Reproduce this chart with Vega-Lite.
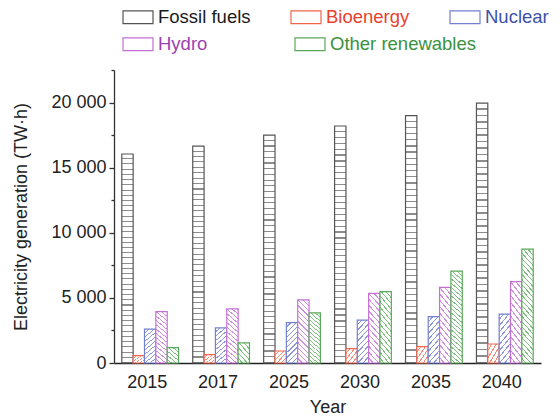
{
"$schema":"https://vega.github.io/schema/vega-lite/v6.json",
"width":427,"height":293,
"autosize":{"type":"none"},
"padding":{"left":114,"top":70,"right":19,"bottom":56},
"config":{"view":{"stroke":null},"font":"Liberation Sans",
"axis":{"labelFontSize":18,"titleFontSize":18,"titleFontWeight":"normal","labelColor":"#222","titleColor":"#222","grid":false,"labelFont":"Liberation Sans","titleFont":"Liberation Sans"},
"legend":{"labelFont":"Liberation Sans","labelFontSize":18.5,"labelOffset":4,"symbolSize":900,"symbolType":"M-1,-0.43H1V0.43H-1Z","symbolStrokeWidth":1.2,"padding":0,"title":null}},
"data":{"values":[
{"year":"2015","source":"Fossil fuels","value":16050},{"year":"2015","source":"Bioenergy","value":560},{"year":"2015","source":"Nuclear","value":2600},{"year":"2015","source":"Hydro","value":3950},{"year":"2015","source":"Other renewables","value":1180},
{"year":"2017","source":"Fossil fuels","value":16650},{"year":"2017","source":"Bioenergy","value":640},{"year":"2017","source":"Nuclear","value":2690},{"year":"2017","source":"Hydro","value":4150},{"year":"2017","source":"Other renewables","value":1540},
{"year":"2025","source":"Fossil fuels","value":17500},{"year":"2025","source":"Bioenergy","value":920},{"year":"2025","source":"Nuclear","value":3100},{"year":"2025","source":"Hydro","value":4850},{"year":"2025","source":"Other renewables","value":3850},
{"year":"2030","source":"Fossil fuels","value":18200},{"year":"2030","source":"Bioenergy","value":1100},{"year":"2030","source":"Nuclear","value":3300},{"year":"2030","source":"Hydro","value":5350},{"year":"2030","source":"Other renewables","value":5480},
{"year":"2035","source":"Fossil fuels","value":19000},{"year":"2035","source":"Bioenergy","value":1250},{"year":"2035","source":"Nuclear","value":3560},{"year":"2035","source":"Hydro","value":5800},{"year":"2035","source":"Other renewables","value":7050},
{"year":"2040","source":"Fossil fuels","value":19950},{"year":"2040","source":"Bioenergy","value":1460},{"year":"2040","source":"Nuclear","value":3760},{"year":"2040","source":"Hydro","value":6250},{"year":"2040","source":"Other renewables","value":8740}
]},
"encoding":{
"x":{"field":"year","type":"nominal","sort":null,"scale":{"paddingInner":0.2,"paddingOuter":0.11},"axis":{"title":"Year","labelAngle":0,"ticks":false,"labelPadding":10,"titlePadding":7,"labelOffset":-3,"domainColor":"#222","domainWidth":1.5}},
"xOffset":{"field":"source","type":"nominal","scale":{"domain":["Fossil fuels","Bioenergy","Nuclear","Hydro","Other renewables"],"paddingInner":0,"paddingOuter":0}},
"y":{"field":"value","type":"quantitative","scale":{"domain":[0,22500],"nice":false},"axis":{"title":"Electricity generation (TW·h)","values":[0,2500,5000,7500,10000,12500,15000,17500,20000,22500],"labelExpr":"datum.value % 5000 === 0 ? replace(format(datum.value, ','), ',', ' ') : ''","tickSize":{"condition":{"test":"datum.value % 5000 === 0","value":5},"value":3},"labelPadding":3,"titlePadding":20,"domainColor":"#333","tickColor":"#333","domainWidth":1.3,"tickWidth":1.3}}
},
"layer":[
{"transform":[{"filter":"datum.source === 'Fossil fuels' || datum.source === 'Bioenergy' || datum.source === 'Nuclear'"}],
"mark":{"type":"bar","strokeWidth":1.2},
"encoding":{
"stroke":{"field":"source","type":"nominal","scale":{"domain":["Fossil fuels","Bioenergy","Nuclear"],"range":["#555555","#f0664c","#7380d0"]},"legend":null},
"fill":{"condition":[
{"test":"datum.source === 'Fossil fuels'","value":{"gradient":"linear","x1":0.5,"y1":0,"x2":0.5,"y2":1,"stops":[
{"offset":0,"color":"#fff"},{"offset":0.02,"color":"#fff"},{"offset":0.02,"color":"#8c8c8c"},{"offset":0.025,"color":"#8c8c8c"},
{"offset":0.025,"color":"#fff"},{"offset":0.045,"color":"#fff"},{"offset":0.045,"color":"#8c8c8c"},{"offset":0.05,"color":"#8c8c8c"},
{"offset":0.05,"color":"#fff"},{"offset":0.07,"color":"#fff"},{"offset":0.07,"color":"#8c8c8c"},{"offset":0.075,"color":"#8c8c8c"},
{"offset":0.075,"color":"#fff"},{"offset":0.095,"color":"#fff"},{"offset":0.095,"color":"#8c8c8c"},{"offset":0.1,"color":"#8c8c8c"},
{"offset":0.1,"color":"#fff"},{"offset":0.12,"color":"#fff"},{"offset":0.12,"color":"#8c8c8c"},{"offset":0.125,"color":"#8c8c8c"},
{"offset":0.125,"color":"#fff"},{"offset":0.145,"color":"#fff"},{"offset":0.145,"color":"#8c8c8c"},{"offset":0.15,"color":"#8c8c8c"},
{"offset":0.15,"color":"#fff"},{"offset":0.17,"color":"#fff"},{"offset":0.17,"color":"#8c8c8c"},{"offset":0.175,"color":"#8c8c8c"},
{"offset":0.175,"color":"#fff"},{"offset":0.195,"color":"#fff"},{"offset":0.195,"color":"#8c8c8c"},{"offset":0.2,"color":"#8c8c8c"},
{"offset":0.2,"color":"#fff"},{"offset":0.22,"color":"#fff"},{"offset":0.22,"color":"#8c8c8c"},{"offset":0.225,"color":"#8c8c8c"},
{"offset":0.225,"color":"#fff"},{"offset":0.245,"color":"#fff"},{"offset":0.245,"color":"#8c8c8c"},{"offset":0.25,"color":"#8c8c8c"},
{"offset":0.25,"color":"#fff"},{"offset":0.27,"color":"#fff"},{"offset":0.27,"color":"#8c8c8c"},{"offset":0.275,"color":"#8c8c8c"},
{"offset":0.275,"color":"#fff"},{"offset":0.295,"color":"#fff"},{"offset":0.295,"color":"#8c8c8c"},{"offset":0.3,"color":"#8c8c8c"},
{"offset":0.3,"color":"#fff"},{"offset":0.32,"color":"#fff"},{"offset":0.32,"color":"#8c8c8c"},{"offset":0.325,"color":"#8c8c8c"},
{"offset":0.325,"color":"#fff"},{"offset":0.345,"color":"#fff"},{"offset":0.345,"color":"#8c8c8c"},{"offset":0.35,"color":"#8c8c8c"},
{"offset":0.35,"color":"#fff"},{"offset":0.37,"color":"#fff"},{"offset":0.37,"color":"#8c8c8c"},{"offset":0.375,"color":"#8c8c8c"},
{"offset":0.375,"color":"#fff"},{"offset":0.395,"color":"#fff"},{"offset":0.395,"color":"#8c8c8c"},{"offset":0.4,"color":"#8c8c8c"},
{"offset":0.4,"color":"#fff"},{"offset":0.42,"color":"#fff"},{"offset":0.42,"color":"#8c8c8c"},{"offset":0.425,"color":"#8c8c8c"},
{"offset":0.425,"color":"#fff"},{"offset":0.445,"color":"#fff"},{"offset":0.445,"color":"#8c8c8c"},{"offset":0.45,"color":"#8c8c8c"},
{"offset":0.45,"color":"#fff"},{"offset":0.47,"color":"#fff"},{"offset":0.47,"color":"#8c8c8c"},{"offset":0.475,"color":"#8c8c8c"},
{"offset":0.475,"color":"#fff"},{"offset":0.495,"color":"#fff"},{"offset":0.495,"color":"#8c8c8c"},{"offset":0.5,"color":"#8c8c8c"},
{"offset":0.5,"color":"#fff"},{"offset":0.52,"color":"#fff"},{"offset":0.52,"color":"#8c8c8c"},{"offset":0.525,"color":"#8c8c8c"},
{"offset":0.525,"color":"#fff"},{"offset":0.545,"color":"#fff"},{"offset":0.545,"color":"#8c8c8c"},{"offset":0.55,"color":"#8c8c8c"},
{"offset":0.55,"color":"#fff"},{"offset":0.57,"color":"#fff"},{"offset":0.57,"color":"#8c8c8c"},{"offset":0.575,"color":"#8c8c8c"},
{"offset":0.575,"color":"#fff"},{"offset":0.595,"color":"#fff"},{"offset":0.595,"color":"#8c8c8c"},{"offset":0.6,"color":"#8c8c8c"},
{"offset":0.6,"color":"#fff"},{"offset":0.62,"color":"#fff"},{"offset":0.62,"color":"#8c8c8c"},{"offset":0.625,"color":"#8c8c8c"},
{"offset":0.625,"color":"#fff"},{"offset":0.645,"color":"#fff"},{"offset":0.645,"color":"#8c8c8c"},{"offset":0.65,"color":"#8c8c8c"},
{"offset":0.65,"color":"#fff"},{"offset":0.67,"color":"#fff"},{"offset":0.67,"color":"#8c8c8c"},{"offset":0.675,"color":"#8c8c8c"},
{"offset":0.675,"color":"#fff"},{"offset":0.695,"color":"#fff"},{"offset":0.695,"color":"#8c8c8c"},{"offset":0.7,"color":"#8c8c8c"},
{"offset":0.7,"color":"#fff"},{"offset":0.72,"color":"#fff"},{"offset":0.72,"color":"#8c8c8c"},{"offset":0.725,"color":"#8c8c8c"},
{"offset":0.725,"color":"#fff"},{"offset":0.745,"color":"#fff"},{"offset":0.745,"color":"#8c8c8c"},{"offset":0.75,"color":"#8c8c8c"},
{"offset":0.75,"color":"#fff"},{"offset":0.77,"color":"#fff"},{"offset":0.77,"color":"#8c8c8c"},{"offset":0.775,"color":"#8c8c8c"},
{"offset":0.775,"color":"#fff"},{"offset":0.795,"color":"#fff"},{"offset":0.795,"color":"#8c8c8c"},{"offset":0.8,"color":"#8c8c8c"},
{"offset":0.8,"color":"#fff"},{"offset":0.82,"color":"#fff"},{"offset":0.82,"color":"#8c8c8c"},{"offset":0.825,"color":"#8c8c8c"},
{"offset":0.825,"color":"#fff"},{"offset":0.845,"color":"#fff"},{"offset":0.845,"color":"#8c8c8c"},{"offset":0.85,"color":"#8c8c8c"},
{"offset":0.85,"color":"#fff"},{"offset":0.87,"color":"#fff"},{"offset":0.87,"color":"#8c8c8c"},{"offset":0.875,"color":"#8c8c8c"},
{"offset":0.875,"color":"#fff"},{"offset":0.895,"color":"#fff"},{"offset":0.895,"color":"#8c8c8c"},{"offset":0.9,"color":"#8c8c8c"},
{"offset":0.9,"color":"#fff"},{"offset":0.92,"color":"#fff"},{"offset":0.92,"color":"#8c8c8c"},{"offset":0.925,"color":"#8c8c8c"},
{"offset":0.925,"color":"#fff"},{"offset":0.945,"color":"#fff"},{"offset":0.945,"color":"#8c8c8c"},{"offset":0.95,"color":"#8c8c8c"},
{"offset":0.95,"color":"#fff"},{"offset":0.97,"color":"#fff"},{"offset":0.97,"color":"#8c8c8c"},{"offset":0.975,"color":"#8c8c8c"},
{"offset":0.975,"color":"#fff"},{"offset":0.995,"color":"#fff"},{"offset":0.995,"color":"#8c8c8c"},{"offset":1,"color":"#8c8c8c"}]}},
{"test":"datum.source === 'Bioenergy'","value":{"gradient":"linear","x1":0,"y1":0,"x2":1,"y2":1,"stops":[
{"offset":0,"color":"#fff"},{"offset":0.15,"color":"#fff"},{"offset":0.15,"color":"#f28a74"},{"offset":0.2,"color":"#f28a74"},
{"offset":0.2,"color":"#fff"},{"offset":0.35,"color":"#fff"},{"offset":0.35,"color":"#f28a74"},{"offset":0.4,"color":"#f28a74"},
{"offset":0.4,"color":"#fff"},{"offset":0.55,"color":"#fff"},{"offset":0.55,"color":"#f28a74"},{"offset":0.6,"color":"#f28a74"},
{"offset":0.6,"color":"#fff"},{"offset":0.75,"color":"#fff"},{"offset":0.75,"color":"#f28a74"},{"offset":0.8,"color":"#f28a74"},
{"offset":0.8,"color":"#fff"},{"offset":0.95,"color":"#fff"},{"offset":0.95,"color":"#f28a74"},{"offset":1,"color":"#f28a74"}]}},
{"test":"datum.source === 'Nuclear'","value":{"gradient":"linear","x1":0,"y1":0,"x2":0.332,"y2":1.187,"stops":[
{"offset":0,"color":"#fff"},{"offset":0.075,"color":"#fff"},{"offset":0.075,"color":"#8c96dc"},{"offset":0.1,"color":"#8c96dc"},
{"offset":0.1,"color":"#fff"},{"offset":0.175,"color":"#fff"},{"offset":0.175,"color":"#8c96dc"},{"offset":0.2,"color":"#8c96dc"},
{"offset":0.2,"color":"#fff"},{"offset":0.275,"color":"#fff"},{"offset":0.275,"color":"#8c96dc"},{"offset":0.3,"color":"#8c96dc"},
{"offset":0.3,"color":"#fff"},{"offset":0.375,"color":"#fff"},{"offset":0.375,"color":"#8c96dc"},{"offset":0.4,"color":"#8c96dc"},
{"offset":0.4,"color":"#fff"},{"offset":0.475,"color":"#fff"},{"offset":0.475,"color":"#8c96dc"},{"offset":0.5,"color":"#8c96dc"},
{"offset":0.5,"color":"#fff"},{"offset":0.575,"color":"#fff"},{"offset":0.575,"color":"#8c96dc"},{"offset":0.6,"color":"#8c96dc"},
{"offset":0.6,"color":"#fff"},{"offset":0.675,"color":"#fff"},{"offset":0.675,"color":"#8c96dc"},{"offset":0.7,"color":"#8c96dc"},
{"offset":0.7,"color":"#fff"},{"offset":0.775,"color":"#fff"},{"offset":0.775,"color":"#8c96dc"},{"offset":0.8,"color":"#8c96dc"},
{"offset":0.8,"color":"#fff"},{"offset":0.875,"color":"#fff"},{"offset":0.875,"color":"#8c96dc"},{"offset":0.9,"color":"#8c96dc"},
{"offset":0.9,"color":"#fff"},{"offset":0.975,"color":"#fff"},{"offset":0.975,"color":"#8c96dc"},{"offset":1,"color":"#8c96dc"}]}}],
"value":"#fff"}
}},
{"transform":[{"filter":"datum.source === 'Hydro' || datum.source === 'Other renewables'"}],
"mark":{"type":"bar","strokeWidth":1.2},
"encoding":{
"stroke":{"field":"source","type":"nominal","scale":{"domain":["Hydro","Other renewables"],"range":["#c46fd6","#5aa85a"]},"legend":null},
"fill":{"condition":[
{"test":"datum.source === 'Hydro'","value":{"gradient":"linear","x1":0,"y1":1,"x2":0.206,"y2":-0.143,"stops":[
{"offset":0,"color":"#fff"},{"offset":0.0536,"color":"#fff"},{"offset":0.0536,"color":"#d08ee0"},{"offset":0.0714,"color":"#d08ee0"},
{"offset":0.0714,"color":"#fff"},{"offset":0.125,"color":"#fff"},{"offset":0.125,"color":"#d08ee0"},{"offset":0.1429,"color":"#d08ee0"},
{"offset":0.1429,"color":"#fff"},{"offset":0.1964,"color":"#fff"},{"offset":0.1964,"color":"#d08ee0"},{"offset":0.2143,"color":"#d08ee0"},
{"offset":0.2143,"color":"#fff"},{"offset":0.2679,"color":"#fff"},{"offset":0.2679,"color":"#d08ee0"},{"offset":0.2857,"color":"#d08ee0"},
{"offset":0.2857,"color":"#fff"},{"offset":0.3393,"color":"#fff"},{"offset":0.3393,"color":"#d08ee0"},{"offset":0.3571,"color":"#d08ee0"},
{"offset":0.3571,"color":"#fff"},{"offset":0.4107,"color":"#fff"},{"offset":0.4107,"color":"#d08ee0"},{"offset":0.4286,"color":"#d08ee0"},
{"offset":0.4286,"color":"#fff"},{"offset":0.4821,"color":"#fff"},{"offset":0.4821,"color":"#d08ee0"},{"offset":0.5,"color":"#d08ee0"},
{"offset":0.5,"color":"#fff"},{"offset":0.5536,"color":"#fff"},{"offset":0.5536,"color":"#d08ee0"},{"offset":0.5714,"color":"#d08ee0"},
{"offset":0.5714,"color":"#fff"},{"offset":0.625,"color":"#fff"},{"offset":0.625,"color":"#d08ee0"},{"offset":0.6429,"color":"#d08ee0"},
{"offset":0.6429,"color":"#fff"},{"offset":0.6964,"color":"#fff"},{"offset":0.6964,"color":"#d08ee0"},{"offset":0.7143,"color":"#d08ee0"},
{"offset":0.7143,"color":"#fff"},{"offset":0.7679,"color":"#fff"},{"offset":0.7679,"color":"#d08ee0"},{"offset":0.7857,"color":"#d08ee0"},
{"offset":0.7857,"color":"#fff"},{"offset":0.8393,"color":"#fff"},{"offset":0.8393,"color":"#d08ee0"},{"offset":0.8571,"color":"#d08ee0"},
{"offset":0.8571,"color":"#fff"},{"offset":0.9107,"color":"#fff"},{"offset":0.9107,"color":"#d08ee0"},{"offset":0.9286,"color":"#d08ee0"},
{"offset":0.9286,"color":"#fff"},{"offset":0.9821,"color":"#fff"},{"offset":0.9821,"color":"#d08ee0"},{"offset":1,"color":"#d08ee0"}]}},
{"test":"datum.value < 2500","value":{"gradient":"linear","x1":0,"y1":1,"x2":0.735,"y2":-0.167,"stops":[
{"offset":0,"color":"#fff"},{"offset":0.125,"color":"#fff"},{"offset":0.125,"color":"#7fbf7f"},{"offset":0.1667,"color":"#7fbf7f"},
{"offset":0.1667,"color":"#fff"},{"offset":0.2917,"color":"#fff"},{"offset":0.2917,"color":"#7fbf7f"},{"offset":0.3333,"color":"#7fbf7f"},
{"offset":0.3333,"color":"#fff"},{"offset":0.4583,"color":"#fff"},{"offset":0.4583,"color":"#7fbf7f"},{"offset":0.5,"color":"#7fbf7f"},
{"offset":0.5,"color":"#fff"},{"offset":0.625,"color":"#fff"},{"offset":0.625,"color":"#7fbf7f"},{"offset":0.6667,"color":"#7fbf7f"},
{"offset":0.6667,"color":"#fff"},{"offset":0.7917,"color":"#fff"},{"offset":0.7917,"color":"#7fbf7f"},{"offset":0.8333,"color":"#7fbf7f"},
{"offset":0.8333,"color":"#fff"},{"offset":0.9583,"color":"#fff"},{"offset":0.9583,"color":"#7fbf7f"},{"offset":1,"color":"#7fbf7f"}]}},
{"test":"datum.value < 6000","value":{"gradient":"linear","x1":0,"y1":1,"x2":0.218,"y2":-0.149,"stops":[
{"offset":0,"color":"#fff"},{"offset":0.05,"color":"#fff"},{"offset":0.05,"color":"#7fbf7f"},{"offset":0.0667,"color":"#7fbf7f"},
{"offset":0.0667,"color":"#fff"},{"offset":0.1167,"color":"#fff"},{"offset":0.1167,"color":"#7fbf7f"},{"offset":0.1333,"color":"#7fbf7f"},
{"offset":0.1333,"color":"#fff"},{"offset":0.1833,"color":"#fff"},{"offset":0.1833,"color":"#7fbf7f"},{"offset":0.2,"color":"#7fbf7f"},
{"offset":0.2,"color":"#fff"},{"offset":0.25,"color":"#fff"},{"offset":0.25,"color":"#7fbf7f"},{"offset":0.2667,"color":"#7fbf7f"},
{"offset":0.2667,"color":"#fff"},{"offset":0.3167,"color":"#fff"},{"offset":0.3167,"color":"#7fbf7f"},{"offset":0.3333,"color":"#7fbf7f"},
{"offset":0.3333,"color":"#fff"},{"offset":0.3833,"color":"#fff"},{"offset":0.3833,"color":"#7fbf7f"},{"offset":0.4,"color":"#7fbf7f"},
{"offset":0.4,"color":"#fff"},{"offset":0.45,"color":"#fff"},{"offset":0.45,"color":"#7fbf7f"},{"offset":0.4667,"color":"#7fbf7f"},
{"offset":0.4667,"color":"#fff"},{"offset":0.5167,"color":"#fff"},{"offset":0.5167,"color":"#7fbf7f"},{"offset":0.5333,"color":"#7fbf7f"},
{"offset":0.5333,"color":"#fff"},{"offset":0.5833,"color":"#fff"},{"offset":0.5833,"color":"#7fbf7f"},{"offset":0.6,"color":"#7fbf7f"},
{"offset":0.6,"color":"#fff"},{"offset":0.65,"color":"#fff"},{"offset":0.65,"color":"#7fbf7f"},{"offset":0.6667,"color":"#7fbf7f"},
{"offset":0.6667,"color":"#fff"},{"offset":0.7167,"color":"#fff"},{"offset":0.7167,"color":"#7fbf7f"},{"offset":0.7333,"color":"#7fbf7f"},
{"offset":0.7333,"color":"#fff"},{"offset":0.7833,"color":"#fff"},{"offset":0.7833,"color":"#7fbf7f"},{"offset":0.8,"color":"#7fbf7f"},
{"offset":0.8,"color":"#fff"},{"offset":0.85,"color":"#fff"},{"offset":0.85,"color":"#7fbf7f"},{"offset":0.8667,"color":"#7fbf7f"},
{"offset":0.8667,"color":"#fff"},{"offset":0.9167,"color":"#fff"},{"offset":0.9167,"color":"#7fbf7f"},{"offset":0.9333,"color":"#7fbf7f"},
{"offset":0.9333,"color":"#fff"},{"offset":0.9833,"color":"#fff"},{"offset":0.9833,"color":"#7fbf7f"},{"offset":1,"color":"#7fbf7f"}]}},
{"test":"datum.value >= 6000","value":{"gradient":"linear","x1":0,"y1":1,"x2":0.121,"y2":-0.097,"stops":[
{"offset":0,"color":"#fff"},{"offset":0.031,"color":"#fff"},{"offset":0.031,"color":"#7fbf7f"},{"offset":0.0417,"color":"#7fbf7f"},
{"offset":0.0417,"color":"#fff"},{"offset":0.0727,"color":"#fff"},{"offset":0.0727,"color":"#7fbf7f"},{"offset":0.0833,"color":"#7fbf7f"},
{"offset":0.0833,"color":"#fff"},{"offset":0.1143,"color":"#fff"},{"offset":0.1143,"color":"#7fbf7f"},{"offset":0.125,"color":"#7fbf7f"},
{"offset":0.125,"color":"#fff"},{"offset":0.156,"color":"#fff"},{"offset":0.156,"color":"#7fbf7f"},{"offset":0.1667,"color":"#7fbf7f"},
{"offset":0.1667,"color":"#fff"},{"offset":0.1977,"color":"#fff"},{"offset":0.1977,"color":"#7fbf7f"},{"offset":0.2083,"color":"#7fbf7f"},
{"offset":0.2083,"color":"#fff"},{"offset":0.2393,"color":"#fff"},{"offset":0.2393,"color":"#7fbf7f"},{"offset":0.25,"color":"#7fbf7f"},
{"offset":0.25,"color":"#fff"},{"offset":0.281,"color":"#fff"},{"offset":0.281,"color":"#7fbf7f"},{"offset":0.2917,"color":"#7fbf7f"},
{"offset":0.2917,"color":"#fff"},{"offset":0.3227,"color":"#fff"},{"offset":0.3227,"color":"#7fbf7f"},{"offset":0.3333,"color":"#7fbf7f"},
{"offset":0.3333,"color":"#fff"},{"offset":0.3643,"color":"#fff"},{"offset":0.3643,"color":"#7fbf7f"},{"offset":0.375,"color":"#7fbf7f"},
{"offset":0.375,"color":"#fff"},{"offset":0.406,"color":"#fff"},{"offset":0.406,"color":"#7fbf7f"},{"offset":0.4167,"color":"#7fbf7f"},
{"offset":0.4167,"color":"#fff"},{"offset":0.4477,"color":"#fff"},{"offset":0.4477,"color":"#7fbf7f"},{"offset":0.4583,"color":"#7fbf7f"},
{"offset":0.4583,"color":"#fff"},{"offset":0.4893,"color":"#fff"},{"offset":0.4893,"color":"#7fbf7f"},{"offset":0.5,"color":"#7fbf7f"},
{"offset":0.5,"color":"#fff"},{"offset":0.531,"color":"#fff"},{"offset":0.531,"color":"#7fbf7f"},{"offset":0.5417,"color":"#7fbf7f"},
{"offset":0.5417,"color":"#fff"},{"offset":0.5727,"color":"#fff"},{"offset":0.5727,"color":"#7fbf7f"},{"offset":0.5833,"color":"#7fbf7f"},
{"offset":0.5833,"color":"#fff"},{"offset":0.6143,"color":"#fff"},{"offset":0.6143,"color":"#7fbf7f"},{"offset":0.625,"color":"#7fbf7f"},
{"offset":0.625,"color":"#fff"},{"offset":0.656,"color":"#fff"},{"offset":0.656,"color":"#7fbf7f"},{"offset":0.6667,"color":"#7fbf7f"},
{"offset":0.6667,"color":"#fff"},{"offset":0.6977,"color":"#fff"},{"offset":0.6977,"color":"#7fbf7f"},{"offset":0.7083,"color":"#7fbf7f"},
{"offset":0.7083,"color":"#fff"},{"offset":0.7393,"color":"#fff"},{"offset":0.7393,"color":"#7fbf7f"},{"offset":0.75,"color":"#7fbf7f"},
{"offset":0.75,"color":"#fff"},{"offset":0.781,"color":"#fff"},{"offset":0.781,"color":"#7fbf7f"},{"offset":0.7917,"color":"#7fbf7f"},
{"offset":0.7917,"color":"#fff"},{"offset":0.8227,"color":"#fff"},{"offset":0.8227,"color":"#7fbf7f"},{"offset":0.8333,"color":"#7fbf7f"},
{"offset":0.8333,"color":"#fff"},{"offset":0.8643,"color":"#fff"},{"offset":0.8643,"color":"#7fbf7f"},{"offset":0.875,"color":"#7fbf7f"},
{"offset":0.875,"color":"#fff"},{"offset":0.906,"color":"#fff"},{"offset":0.906,"color":"#7fbf7f"},{"offset":0.9167,"color":"#7fbf7f"},
{"offset":0.9167,"color":"#fff"},{"offset":0.9477,"color":"#fff"},{"offset":0.9477,"color":"#7fbf7f"},{"offset":0.9583,"color":"#7fbf7f"},
{"offset":0.9583,"color":"#fff"},{"offset":0.9893,"color":"#fff"},{"offset":0.9893,"color":"#7fbf7f"},{"offset":1,"color":"#7fbf7f"}]}}],
"value":"#fff"}
}},
{"transform":[{"filter":"false"}],
"mark":{"type":"bar","filled":false},
"encoding":{
"stroke":{"field":"source","type":"nominal","scale":{"domain":["Fossil fuels","Bioenergy","Nuclear"],"range":["#555555","#f0664c","#7380d0"]},
"legend":{"orient":"none","direction":"horizontal","legendX":8,"legendY":-69,"columnPadding":37,
"labelColor":{"expr":"datum.value === 'Bioenergy' ? '#e8412c' : datum.value === 'Nuclear' ? '#3d52a8' : '#1a1a1a'"},
"symbolFillColor":{"expr":"datum.value === 'Fossil fuels' ? {gradient:'linear',x1:0.5,y1:0,x2:0.5,y2:1,stops:[{offset:0,color:'#fff'},{offset:0.3,color:'#fff'},{offset:0.3,color:'#777'},{offset:0.37,color:'#777'},{offset:0.37,color:'#fff'},{offset:0.63,color:'#fff'},{offset:0.63,color:'#777'},{offset:0.7,color:'#777'},{offset:0.7,color:'#fff'},{offset:1,color:'#fff'}]} : datum.value === 'Bioenergy' ? {gradient:'linear',x1:0,y1:0,x2:1.208,y2:0.523,stops:[{offset:0,color:'#fff'},{offset:0.09,color:'#fff'},{offset:0.09,color:'#f28a74'},{offset:0.125,color:'#f28a74'},{offset:0.125,color:'#fff'},{offset:0.215,color:'#fff'},{offset:0.215,color:'#f28a74'},{offset:0.25,color:'#f28a74'},{offset:0.25,color:'#fff'},{offset:0.34,color:'#fff'},{offset:0.34,color:'#f28a74'},{offset:0.375,color:'#f28a74'},{offset:0.375,color:'#fff'},{offset:0.465,color:'#fff'},{offset:0.465,color:'#f28a74'},{offset:0.5,color:'#f28a74'},{offset:0.5,color:'#fff'},{offset:0.59,color:'#fff'},{offset:0.59,color:'#f28a74'},{offset:0.625,color:'#f28a74'},{offset:0.625,color:'#fff'},{offset:0.715,color:'#fff'},{offset:0.715,color:'#f28a74'},{offset:0.75,color:'#f28a74'},{offset:0.75,color:'#fff'},{offset:0.84,color:'#fff'},{offset:0.84,color:'#f28a74'},{offset:0.875,color:'#f28a74'},{offset:0.875,color:'#fff'},{offset:0.965,color:'#fff'},{offset:0.965,color:'#f28a74'},{offset:1,color:'#f28a74'}]} : {gradient:'linear',x1:0,y1:0,x2:1.208,y2:0.523,stops:[{offset:0,color:'#fff'},{offset:0.09,color:'#fff'},{offset:0.09,color:'#8c96dc'},{offset:0.125,color:'#8c96dc'},{offset:0.125,color:'#fff'},{offset:0.215,color:'#fff'},{offset:0.215,color:'#8c96dc'},{offset:0.25,color:'#8c96dc'},{offset:0.25,color:'#fff'},{offset:0.34,color:'#fff'},{offset:0.34,color:'#8c96dc'},{offset:0.375,color:'#8c96dc'},{offset:0.375,color:'#fff'},{offset:0.465,color:'#fff'},{offset:0.465,color:'#8c96dc'},{offset:0.5,color:'#8c96dc'},{offset:0.5,color:'#fff'},{offset:0.59,color:'#fff'},{offset:0.59,color:'#8c96dc'},{offset:0.625,color:'#8c96dc'},{offset:0.625,color:'#fff'},{offset:0.715,color:'#fff'},{offset:0.715,color:'#8c96dc'},{offset:0.75,color:'#8c96dc'},{offset:0.75,color:'#fff'},{offset:0.84,color:'#fff'},{offset:0.84,color:'#8c96dc'},{offset:0.875,color:'#8c96dc'},{offset:0.875,color:'#fff'},{offset:0.965,color:'#fff'},{offset:0.965,color:'#8c96dc'},{offset:1,color:'#8c96dc'}]}"}}}
}},
{"transform":[{"filter":"false"}],
"mark":{"type":"bar","filled":false},
"encoding":{
"stroke":{"field":"source","type":"nominal","scale":{"domain":["Hydro","Other renewables"],"range":["#c46fd6","#5aa85a"]},
"legend":{"orient":"none","direction":"horizontal","legendX":8,"legendY":-42,"columnPadding":84,
"labelColor":{"expr":"datum.value === 'Hydro' ? '#9c3fb0' : '#3a913e'"},
"symbolFillColor":{"expr":"datum.value === 'Hydro' ? {gradient:'linear',x1:0,y1:1,x2:1.208,y2:0.477,stops:[{offset:0,color:'#fff'},{offset:0.09,color:'#fff'},{offset:0.09,color:'#d08ee0'},{offset:0.125,color:'#d08ee0'},{offset:0.125,color:'#fff'},{offset:0.215,color:'#fff'},{offset:0.215,color:'#d08ee0'},{offset:0.25,color:'#d08ee0'},{offset:0.25,color:'#fff'},{offset:0.34,color:'#fff'},{offset:0.34,color:'#d08ee0'},{offset:0.375,color:'#d08ee0'},{offset:0.375,color:'#fff'},{offset:0.465,color:'#fff'},{offset:0.465,color:'#d08ee0'},{offset:0.5,color:'#d08ee0'},{offset:0.5,color:'#fff'},{offset:0.59,color:'#fff'},{offset:0.59,color:'#d08ee0'},{offset:0.625,color:'#d08ee0'},{offset:0.625,color:'#fff'},{offset:0.715,color:'#fff'},{offset:0.715,color:'#d08ee0'},{offset:0.75,color:'#d08ee0'},{offset:0.75,color:'#fff'},{offset:0.84,color:'#fff'},{offset:0.84,color:'#d08ee0'},{offset:0.875,color:'#d08ee0'},{offset:0.875,color:'#fff'},{offset:0.965,color:'#fff'},{offset:0.965,color:'#d08ee0'},{offset:1,color:'#d08ee0'}]} : {gradient:'linear',x1:0,y1:1,x2:1.208,y2:0.477,stops:[{offset:0,color:'#fff'},{offset:0.09,color:'#fff'},{offset:0.09,color:'#7fbf7f'},{offset:0.125,color:'#7fbf7f'},{offset:0.125,color:'#fff'},{offset:0.215,color:'#fff'},{offset:0.215,color:'#7fbf7f'},{offset:0.25,color:'#7fbf7f'},{offset:0.25,color:'#fff'},{offset:0.34,color:'#fff'},{offset:0.34,color:'#7fbf7f'},{offset:0.375,color:'#7fbf7f'},{offset:0.375,color:'#fff'},{offset:0.465,color:'#fff'},{offset:0.465,color:'#7fbf7f'},{offset:0.5,color:'#7fbf7f'},{offset:0.5,color:'#fff'},{offset:0.59,color:'#fff'},{offset:0.59,color:'#7fbf7f'},{offset:0.625,color:'#7fbf7f'},{offset:0.625,color:'#fff'},{offset:0.715,color:'#fff'},{offset:0.715,color:'#7fbf7f'},{offset:0.75,color:'#7fbf7f'},{offset:0.75,color:'#fff'},{offset:0.84,color:'#fff'},{offset:0.84,color:'#7fbf7f'},{offset:0.875,color:'#7fbf7f'},{offset:0.875,color:'#fff'},{offset:0.965,color:'#fff'},{offset:0.965,color:'#7fbf7f'},{offset:1,color:'#7fbf7f'}]}"}}}
}}
],
"resolve":{"scale":{"stroke":"independent"},"legend":{"stroke":"independent"}}
}
